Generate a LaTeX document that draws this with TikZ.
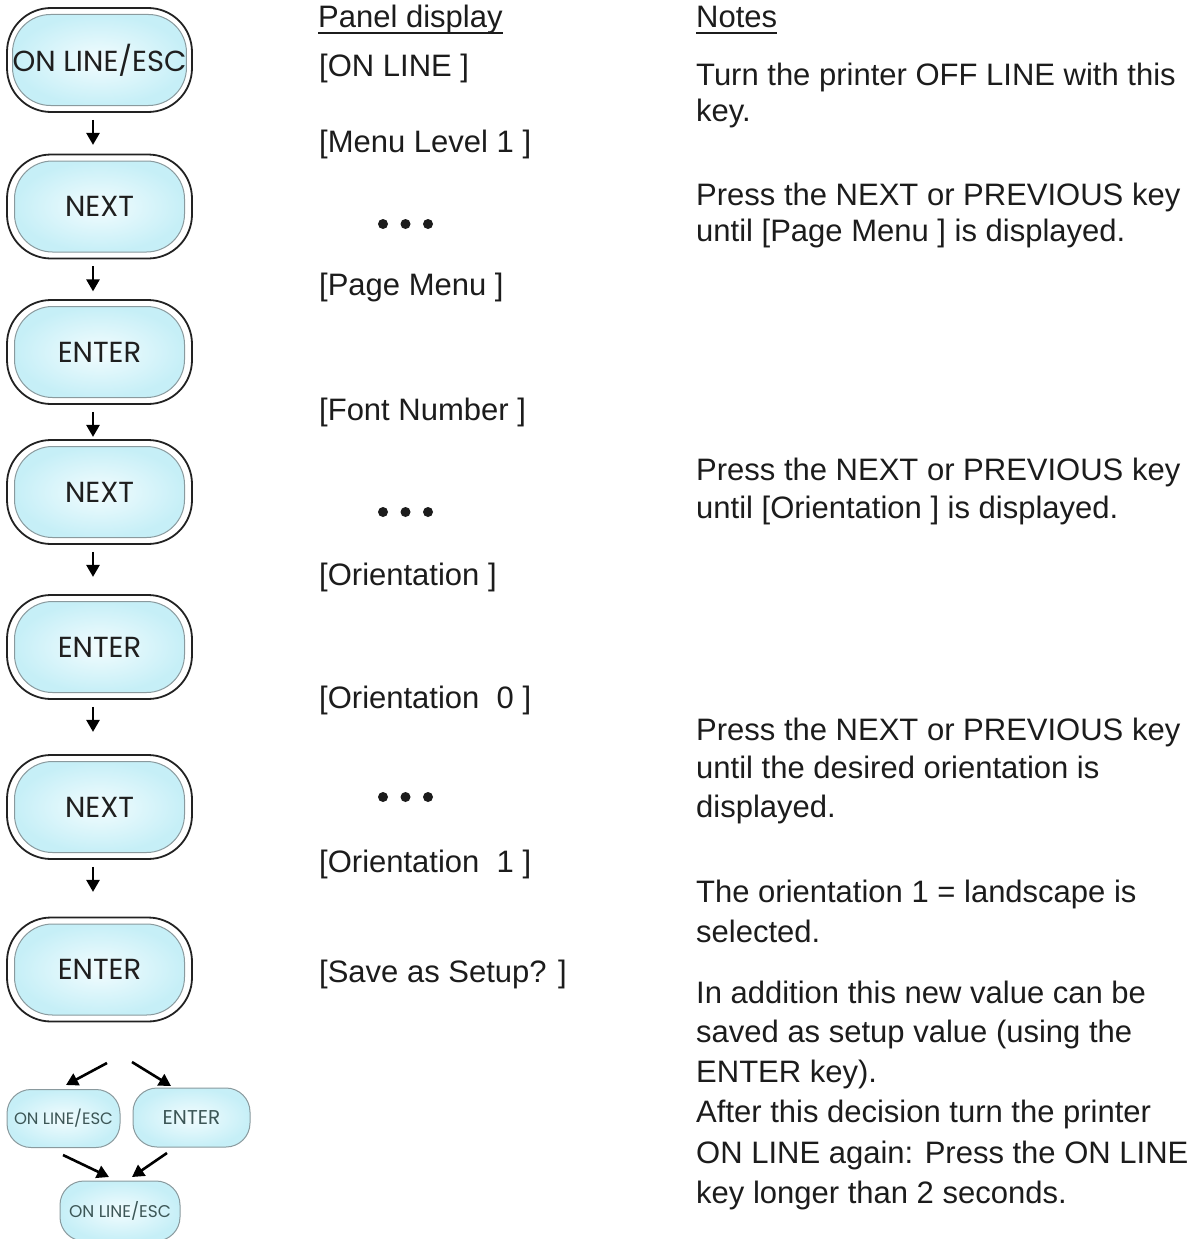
\documentclass[tikz,border=0pt]{standalone}
\usepackage{fontspec}
\setmainfont{Liberation Sans}
\newfontfamily\btnfont{Poppins}
\usetikzlibrary{arrows.meta,calc}
\definecolor{btnline}{HTML}{222222}
\definecolor{innerline}{HTML}{8A9A9E}
\definecolor{cyanedge}{HTML}{C6EFF7}
\definecolor{cyancenter}{HTML}{F2FCFE}
\definecolor{smalltext}{HTML}{3C5656}
\definecolor{txtcol}{HTML}{1C1C1C}
\begin{document}
\begin{tikzpicture}[x=1pt,y=-1pt,
  btnouter/.style={draw=btnline, line width=1.8pt, fill=white, minimum width=185pt, minimum height=104pt, rounded corners=44pt, inner sep=0pt},
  btninner/.style={draw=innerline, line width=1pt, inner color=cyancenter, outer color=cyanedge, minimum width=170pt, minimum height=91pt, rounded corners=38pt, inner sep=0pt, font=\btnfont\fontsize{29}{29}\selectfont, text=black!88},
  smallbtn/.style={draw=innerline, line width=1pt, inner color=cyancenter, outer color=cyanedge, rounded corners=24pt, inner sep=0pt, font=\btnfont\fontsize{16.5}{16.5}\selectfont, text=smalltext},
  arr/.style={line width=2.6pt, draw=black, -{Triangle[width=13pt,length=12pt]}},
  txt/.style={anchor=base west, inner sep=0pt, text=txtcol, font=\fontsize{31}{36}\selectfont},
  uline/.style={line width=1.8pt, draw=txtcol}
]
\fill[white] (0,0) rectangle (1200,1239);
\useasboundingbox (0,0) rectangle (1200,1239);

% big buttons
\node[btnouter] (b1) at (99.5,60) {};
\node[btninner] (b1i) at (b1) {ON LINE/ESC};
\node[btnouter] (b2) at (99.5,206.5) {};
\node[btninner] (b2i) at (b2) {NEXT};
\node[btnouter] (b3) at (99.5,352) {};
\node[btninner] (b3i) at (b3) {ENTER};
\node[btnouter] (b4) at (99.5,492) {};
\node[btninner] (b4i) at (b4) {NEXT};
\node[btnouter] (b5) at (99.5,647) {};
\node[btninner] (b5i) at (b5) {ENTER};
\node[btnouter] (b6) at (99.5,807) {};
\node[btninner] (b6i) at (b6) {NEXT};
\node[btnouter] (b7) at (99.5,969.5) {};
\node[btninner] (b7i) at (b7) {ENTER};

\foreach \a/\b in {b1/b2,b2/b3,b3/b4,b4/b5,b5/b6,b6/b7}
  \draw[arr] ($([xshift=-6.5pt]\a.south)!7pt!([xshift=-6.5pt]\b.north)$) -- ($([xshift=-6.5pt]\a.south)!32pt!([xshift=-6.5pt]\b.north)$);

% small buttons
\node[smallbtn, minimum width=113pt, minimum height=58pt] (s1) at (63.5,1118.5) {ON LINE/ESC};
\node[smallbtn, minimum width=117pt, minimum height=59pt, font=\btnfont\fontsize{20}{20}\selectfont] (s2) at (191.5,1117.5) {ENTER};
\node[smallbtn, minimum width=120pt, minimum height=60pt, font=\btnfont\fontsize{17}{17}\selectfont] (s3) at (120,1211) {ON LINE/ESC};

\coordinate (d1s) at (107,1063); \coordinate (d1e) at (66,1085);
\coordinate (d2s) at (132,1062); \coordinate (d2e) at (171,1086);
\coordinate (d3s) at (63,1155);  \coordinate (d3e) at (109,1177);
\coordinate (d4s) at (167,1153); \coordinate (d4e) at (132,1177);
\draw[arr] (d1s) -- (d1e);
\draw[arr] (d2s) -- (d2e);
\draw[arr] (d3s) -- (d3e);
\draw[arr] (d4s) -- (d4e);

% panel display column
\node[txt] (ph) at (318,28) {Panel display};
\draw[uline] ([yshift=-5pt]ph.base west) -- ([yshift=-5pt]ph.base east);
\node[txt] (p1) at (319,76) {[ON LINE ]};
\node[txt] (p2) at (319,152) {[Menu Level 1 ]};
\node[txt] (p3) at (319,295) {[Page Menu ]};
\node[txt] (p4) at (319,420) {[Font Number ]};
\node[txt] (p5) at (319,585) {[Orientation ]};
\node[txt] (p6) at (319,708) {[Orientation\ \ 0 ]};
\node[txt] (p7) at (319,872) {[Orientation\ \ 1 ]};
\node[txt] (p8) at (319,982) {[Save as Setup? ]};
\foreach \yy in {224,512,797}{
  \fill[txtcol] (383,\yy) circle (5pt);
  \fill[txtcol] (405.5,\yy) circle (5pt);
  \fill[txtcol] (428,\yy) circle (5pt);
}

% notes column
\node[txt] (nh) at (696,28) {Notes};
\draw[uline] ([yshift=-5pt]nh.base west) -- ([yshift=-5pt]nh.base east);
\node[txt] (n1) at (696,85) {Turn the printer OFF LINE with this};
\node[txt] (n2) at (696,121) {key.};
\node[txt] (n3) at (696,205) {Press the NEXT or PREVIOUS key};
\node[txt] (n4) at (696,241) {until [Page Menu ] is displayed.};
\node[txt] (n5) at (696,480) {Press the NEXT or PREVIOUS key};
\node[txt] (n6) at (696,518) {until [Orientation ] is displayed.};
\node[txt] (n7) at (696,740) {Press the NEXT or PREVIOUS key};
\node[txt] (n8) at (696,778) {until the desired orientation is};
\node[txt] (n9) at (696,817) {displayed.};
\node[txt] (n10) at (696,902) {The orientation 1 = landscape is};
\node[txt] (n11) at (696,942) {selected.};
\node[txt] (n12) at (696,1003) {In addition this new value can be};
\node[txt] (n13) at (696,1042) {saved as setup value (using the};
\node[txt] (n14) at (696,1082) {ENTER key).};
\node[txt] (n15) at (696,1122) {After this decision turn the printer};
\node[txt] (n16) at (696,1163) {ON LINE again: Press the ON LINE};
\node[txt] (n17) at (696,1203) {key longer than 2 seconds.};
\end{tikzpicture}
\end{document}
